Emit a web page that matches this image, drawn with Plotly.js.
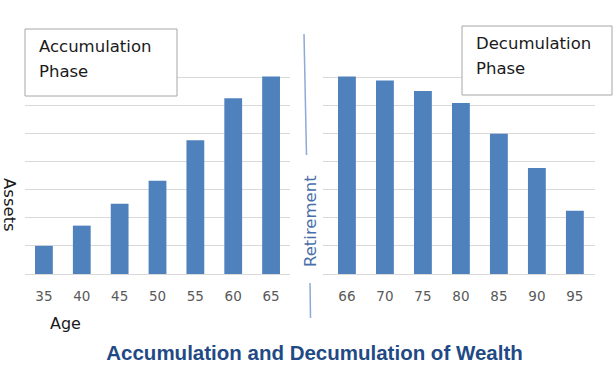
<!DOCTYPE html>
<html>
<head>
<meta charset="utf-8">
<script src="https://cdn.plot.ly/plotly-3.0.1.min.js"></script>
<style>html,body{margin:0;padding:0;background:#fff;}#chart{width:613px;height:373px;}</style>
</head>
<body>
<div id="chart"></div>
<script>
const leftAges = ['35','40','45','50','55','60','65'];
const leftAssets = [1.0, 1.72, 2.5, 3.32, 4.76, 6.25, 7.02];
const rightAges = ['66','70','75','80','85','90','95'];
const rightAssets = [7.02, 6.88, 6.51, 6.08, 4.99, 3.77, 2.25];

const W = 613, H = 373;
const ML = 25, MR = 18, MT = 49, MB = 99;
const PW = W - ML - MR, PH = H - MT - MB;
const px = x => (x - ML) / PW;
const py = y => (H - MB - y) / PH;

const FAM = 'DejaVu Sans, Verdana, sans-serif';
const barColor = '#4f81bd';
const gridColor = '#d9d9d9';
const tickFont = {family: FAM, size: 13.5, color: '#595959'};
const boxFont = {family: FAM, size: 16.5, color: '#1a1a1a'};

const traces = [
  {type: 'bar', x: leftAges, y: leftAssets, xaxis: 'x', yaxis: 'y',
   marker: {color: barColor}, width: 0.47, hoverinfo: 'x+y'},
  {type: 'bar', x: rightAges, y: rightAssets, xaxis: 'x2', yaxis: 'y2',
   marker: {color: barColor}, width: 0.47, hoverinfo: 'x+y'}
];

const xCommon = {
  type: 'category', showgrid: false, zeroline: false, showline: true,
  linecolor: gridColor, linewidth: 1, ticks: '', tickfont: tickFont,
  ticklabelstandoff: 10, fixedrange: true
};
const yCommon = {
  range: [0, 8], dtick: 1, showticklabels: false, showgrid: true,
  gridcolor: gridColor, gridwidth: 1, zeroline: false, showline: false,
  ticks: '', fixedrange: true
};

const layout = {
  width: W, height: H,
  margin: {l: ML, r: MR, t: MT, b: MB, pad: 0},
  paper_bgcolor: '#ffffff', plot_bgcolor: '#ffffff',
  showlegend: false,
  xaxis: Object.assign({}, xCommon, {domain: [0, px(290)], range: [-0.5, 6.5], anchor: 'y'}),
  xaxis2: Object.assign({}, xCommon, {domain: [px(323), 1], range: [-0.63, 6.53], anchor: 'y2'}),
  yaxis: Object.assign({}, yCommon, {anchor: 'x'}),
  yaxis2: Object.assign({}, yCommon, {anchor: 'x2', matches: 'y'}),
  title: {
    text: '<b>Accumulation and Decumulation of Wealth</b>',
    font: {family: 'Liberation Sans, Arial, sans-serif', size: 20.5, color: '#1f4a85'},
    xref: 'container', yref: 'container',
    x: 314.5 / W, y: 1 - 353 / H, xanchor: 'center', yanchor: 'middle'
  },
  shapes: [
    {type: 'rect', xref: 'paper', yref: 'paper', x0: px(25), x1: px(177), y0: py(29), y1: py(96),
     line: {color: '#a6a6a6', width: 1}, fillcolor: '#ffffff', layer: 'above'},
    {type: 'rect', xref: 'paper', yref: 'paper', x0: px(462), x1: px(612), y0: py(26), y1: py(95),
     line: {color: '#a6a6a6', width: 1}, fillcolor: '#ffffff', layer: 'above'},
    {type: 'line', xref: 'paper', yref: 'paper', x0: px(304), x1: px(306.5), y0: py(34), y1: py(155),
     line: {color: '#8eaad8', width: 1.5}},
    {type: 'line', xref: 'paper', yref: 'paper', x0: px(310), x1: px(310.5), y0: py(283), y1: py(318),
     line: {color: '#8eaad8', width: 1.5}}
  ],
  annotations: [
    {text: 'Accumulation', xref: 'paper', yref: 'paper', x: px(37), y: py(46.5), xanchor: 'left', yanchor: 'middle', showarrow: false, font: boxFont},
    {text: 'Phase', xref: 'paper', yref: 'paper', x: px(37), y: py(71.5), xanchor: 'left', yanchor: 'middle', showarrow: false, font: boxFont},
    {text: 'Decumulation', xref: 'paper', yref: 'paper', x: px(474), y: py(43.5), xanchor: 'left', yanchor: 'middle', showarrow: false, font: boxFont},
    {text: 'Phase', xref: 'paper', yref: 'paper', x: px(474), y: py(68.5), xanchor: 'left', yanchor: 'middle', showarrow: false, font: boxFont},
    {text: 'Age', xref: 'paper', yref: 'paper', x: px(65.5), y: py(323), xanchor: 'center', yanchor: 'middle', showarrow: false,
     font: {family: FAM, size: 16, color: '#1a1a1a'}},
    {text: 'Assets', xref: 'paper', yref: 'paper', x: px(10), y: py(205), xanchor: 'center', yanchor: 'middle', showarrow: false, textangle: 90,
     font: {family: FAM, size: 16.5, color: '#1a1a1a'}},
    {text: 'Retirement', xref: 'paper', yref: 'paper', x: px(310), y: py(221), xanchor: 'center', yanchor: 'middle', showarrow: false, textangle: -90,
     font: {family: FAM, size: 16.5, color: '#4a6fa8'}}
  ]
};

Plotly.newPlot('chart', traces, layout, {displayModeBar: false, staticPlot: true});
</script>
</body>
</html>
